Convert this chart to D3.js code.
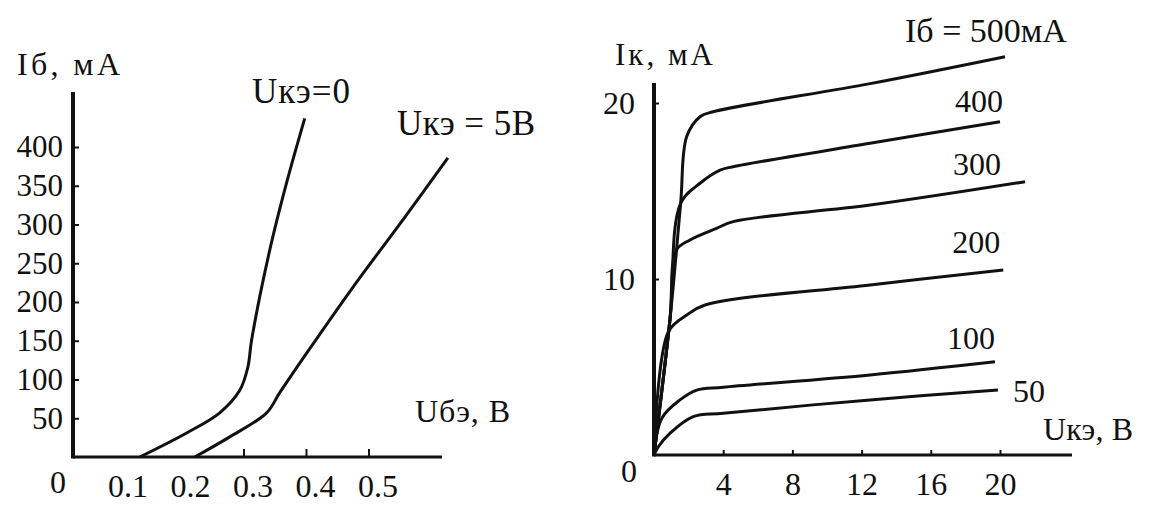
<!DOCTYPE html>
<html>
<head>
<meta charset="utf-8">
<script src="https://cdn.jsdelivr.net/npm/d3@7/dist/d3.min.js"></script>
<style>
    body { margin: 0; background: #fff; }
    svg text { font-family: "Liberation Serif", "DejaVu Serif", serif; fill: #111; }
</style>
</head>
<body>
<svg id="chart" width="1151" height="506"></svg>
<script>
// input characteristics: Iб (мА) vs Uбэ (В)
var ubeZero = [0.134, 0.209, 0.262, 0.294, 0.307, 0.313, 0.342, 0.369, 0.398];
var ibZero = [0, 31, 57, 86, 116, 151, 267, 354, 437];
var ubeFive = [0.222, 0.278, 0.337, 0.358, 0.401, 0.475, 0.555, 0.627];
var ibFive = [0, 26, 57, 83, 134, 219, 306, 386];
var ubeTicks = [0.1, 0.2, 0.3, 0.4, 0.5];
var ibTicks = [50, 100, 150, 200, 250, 300, 350, 400];

// output characteristics: Iк (мА) vs Uкэ (В), one line per Iб
var ibLevels = ['500', '400', '300', '200', '100', '50'];
var uce500 = [0, 0.92, 1.54, 1.89, 2.66, 3.41, 12.49, 20.29];
var ic500 = [0, 7.67, 14.3, 18.09, 19.22, 19.5, 21.1, 22.63];
var uce400 = [0, 0.92, 1.54, 2.66, 3.82, 4.57, 12.49, 20.0];
var ic400 = [0, 7.67, 14.3, 15.44, 16.19, 16.38, 17.71, 18.94];
var uce300 = [0, 0.92, 1.3, 2.08, 3.62, 4.58, 12.49, 21.45];
var ic300 = [0, 7.67, 11.65, 12.22, 12.88, 13.26, 14.2, 15.53];
var uce200 = [0, 0.83, 1.89, 2.95, 12.49, 20.19];
var ic200 = [0, 7.0, 7.95, 8.52, 9.66, 10.51];
var uce100 = [0, 0.45, 1.5, 2.47, 4.0, 12.49, 19.71];
var ic100 = [0, 2.09, 3.13, 3.69, 3.85, 4.55, 5.3];
var uce50 = [0, 0.25, 0.92, 2.27, 4.0, 12.49, 19.88];
var ic50 = [0, 0.47, 1.23, 2.18, 2.37, 3.13, 3.69];
var uceTicks = [4, 8, 12, 16, 20];
var icTicks = [10, 20];

var svg = d3.select('#chart');
var font = '"Liberation Serif", "DejaVu Serif", serif';

var zip = function(xs, ys) {
    return xs.map(function(v, i) { return [v, ys[i]]; });
};

var drawTicks = function(g, axis, size, dx) {
    g.call(axis);
    g.attr('font-family', font).attr('font-size', size);
    g.select('.domain').remove();
    g.selectAll('.tick line').attr('stroke', '#111').attr('stroke-width', 2);
    g.selectAll('.tick text').attr('fill', '#111').attr('dx', dx || 0);
    return g;
};

var addText = function(txt, x, y, size, width, anchor) {
    var t = svg.append('text')
        .attr('x', x)
        .attr('y', y)
        .attr('font-size', size)
        .attr('text-anchor', anchor || 'start')
        .text(txt);
    if (width) {
        t.attr('textLength', width).attr('lengthAdjust', 'spacing');
    }
    return t;
};

// ---------- left panel ----------
var xL = d3.scaleLinear().domain([0, 0.6]).range([56, 431]);
var yL = d3.scaleLinear().domain([0, 400]).range([457, 147]);
var left = svg.append('g');
var axisLeftX = 73;

left.append('line')
    .attr('x1', axisLeftX).attr('y1', yL(0))
    .attr('x2', 442).attr('y2', yL(0))
    .attr('stroke', '#111').attr('stroke-width', 3);
left.append('line')
    .attr('x1', axisLeftX).attr('y1', yL(0) + 1.5)
    .attr('x2', axisLeftX).attr('y2', 92)
    .attr('stroke', '#111').attr('stroke-width', 4);

var ubeAxis = drawTicks(left.append('g').attr('transform', 'translate(0,' + yL(0) + ')'),
    d3.axisBottom(xL).tickValues(ubeTicks).tickSize(-8).tickPadding(17).tickFormat(d3.format('.1f')), 32, 9);
// the first two marks are hidden under the curve feet in the original
ubeAxis.selectAll('.tick line').filter(function(d) { return d < 0.25; }).remove();
drawTicks(left.append('g').attr('transform', 'translate(' + axisLeftX + ',0)'),
    d3.axisLeft(yL).tickValues(ibTicks).tickSize(-6).tickPadding(10), 31);

var lineL = d3.line()
    .x(function(d) { return xL(d[0]); })
    .y(function(d) { return yL(d[1]); })
    .curve(d3.curveCatmullRom.alpha(0.5));

left.selectAll('path.curve')
    .data([zip(ubeZero, ibZero), zip(ubeFive, ibFive)])
    .enter()
    .append('path')
    .attr('class', 'curve')
    .attr('d', lineL)
    .attr('fill', 'none')
    .attr('stroke', '#111')
    .attr('stroke-width', 3)
    .attr('stroke-linejoin', 'round');

addText('Iб, мА', 17, 75, 32, 103);
addText('Uкэ=0', 252, 103, 35, 98);
addText('Uкэ = 5В', 397, 135, 35, 138);
addText('Uбэ, В', 415, 422, 32, 95);
addText('0', axisLeftX - 15, yL(0) + 36, 32, null, 'middle');

// ---------- right panel ----------
var xR = d3.scaleLinear().domain([0, 20]).range([654, 1000]);
var yR = d3.scaleLinear().domain([0, 20]).range([455, 103]);
var right = svg.append('g');

right.append('line')
    .attr('x1', xR(0)).attr('y1', yR(0))
    .attr('x2', 1072).attr('y2', yR(0))
    .attr('stroke', '#111').attr('stroke-width', 3);
right.append('line')
    .attr('x1', xR(0)).attr('y1', yR(0) + 1.5)
    .attr('x2', xR(0)).attr('y2', 83)
    .attr('stroke', '#111').attr('stroke-width', 4);

drawTicks(right.append('g').attr('transform', 'translate(0,' + yR(0) + ')'),
    d3.axisBottom(xR).tickValues(uceTicks).tickSize(-5).tickPadding(17), 32);
drawTicks(right.append('g').attr('transform', 'translate(' + xR(0) + ',0)'),
    d3.axisLeft(yR).tickValues(icTicks).tickSize(-5).tickPadding(19), 32);

var lineR = d3.line()
    .x(function(d) { return xR(d[0]); })
    .y(function(d) { return yR(d[1]); })
    .curve(d3.curveCatmullRom.alpha(0.5));

var outSeries = [
    zip(uce500, ic500), zip(uce400, ic400), zip(uce300, ic300),
    zip(uce200, ic200), zip(uce100, ic100), zip(uce50, ic50)
];

right.selectAll('path.curve')
    .data(outSeries)
    .enter()
    .append('path')
    .attr('class', 'curve')
    .attr('d', lineR)
    .attr('fill', 'none')
    .attr('stroke', '#111')
    .attr('stroke-width', 3)
    .attr('stroke-linejoin', 'round');

// label offsets, in px from each line's last point
var labelShift = [[-100, -15], [-45, -10], [-72, -7], [-51, -17], [-48, -13], [15, 12]];
ibLevels.forEach(function(level, i) {
    var last = outSeries[i][outSeries[i].length - 1];
    if (i === 0) {
        addText('Iб = ' + level + 'мА', xR(last[0]) + labelShift[i][0], yR(last[1]) + labelShift[i][1], 34);
    } else {
        addText(level, xR(last[0]) + labelShift[i][0], yR(last[1]) + labelShift[i][1], 32);
    }
});

addText('Iк, мА', 615, 65, 31, 98);
addText('Uкэ, В', 1043, 440, 32, 90);
addText('0', xR(0) - 25, yR(0) + 27, 32, null, 'middle');
</script>
</body>
</html>
